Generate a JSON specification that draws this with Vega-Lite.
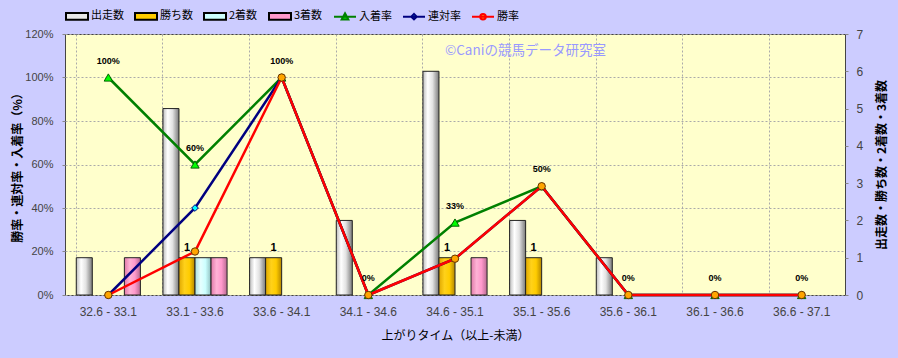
{
  "$schema": "https://vega.github.io/schema/vega-lite/v6.json",
  "width": 780,
  "height": 261,
  "autosize": {"type": "none"},
  "padding": {"left": 65, "top": 34, "right": 53, "bottom": 63},
  "background": "#ccccff",
  "config": {
    "font": "Noto Sans CJK JP",
    "view": {"fill": "#ffffcc", "stroke": "#444", "strokeWidth": 1},
    "axis": {
      "labelFont": "Liberation Sans",
      "labelColor": "#444",
      "titleFont": "Noto Sans CJK JP",
      "titleColor": "#000",
      "domain": false,
      "gridDash": [2, 2],
      "gridColor": "#aaaaaa",
      "tickColor": "#888888"
    }
  },
  "datasets": {
    "counts": [
      {"range": "32.6 - 33.1", "series": "出走数", "count": 1},
      {"range": "32.6 - 33.1", "series": "勝ち数", "count": 0},
      {"range": "32.6 - 33.1", "series": "2着数", "count": 0},
      {"range": "32.6 - 33.1", "series": "3着数", "count": 1},
      {"range": "33.1 - 33.6", "series": "出走数", "count": 5},
      {"range": "33.1 - 33.6", "series": "勝ち数", "count": 1},
      {"range": "33.1 - 33.6", "series": "2着数", "count": 1},
      {"range": "33.1 - 33.6", "series": "3着数", "count": 1},
      {"range": "33.6 - 34.1", "series": "出走数", "count": 1},
      {"range": "33.6 - 34.1", "series": "勝ち数", "count": 1},
      {"range": "33.6 - 34.1", "series": "2着数", "count": 0},
      {"range": "33.6 - 34.1", "series": "3着数", "count": 0},
      {"range": "34.1 - 34.6", "series": "出走数", "count": 2},
      {"range": "34.1 - 34.6", "series": "勝ち数", "count": 0},
      {"range": "34.1 - 34.6", "series": "2着数", "count": 0},
      {"range": "34.1 - 34.6", "series": "3着数", "count": 0},
      {"range": "34.6 - 35.1", "series": "出走数", "count": 6},
      {"range": "34.6 - 35.1", "series": "勝ち数", "count": 1},
      {"range": "34.6 - 35.1", "series": "2着数", "count": 0},
      {"range": "34.6 - 35.1", "series": "3着数", "count": 1},
      {"range": "35.1 - 35.6", "series": "出走数", "count": 2},
      {"range": "35.1 - 35.6", "series": "勝ち数", "count": 1},
      {"range": "35.1 - 35.6", "series": "2着数", "count": 0},
      {"range": "35.1 - 35.6", "series": "3着数", "count": 0},
      {"range": "35.6 - 36.1", "series": "出走数", "count": 1},
      {"range": "35.6 - 36.1", "series": "勝ち数", "count": 0},
      {"range": "35.6 - 36.1", "series": "2着数", "count": 0},
      {"range": "35.6 - 36.1", "series": "3着数", "count": 0},
      {"range": "36.1 - 36.6", "series": "出走数", "count": 0},
      {"range": "36.1 - 36.6", "series": "勝ち数", "count": 0},
      {"range": "36.1 - 36.6", "series": "2着数", "count": 0},
      {"range": "36.1 - 36.6", "series": "3着数", "count": 0},
      {"range": "36.6 - 37.1", "series": "出走数", "count": 0},
      {"range": "36.6 - 37.1", "series": "勝ち数", "count": 0},
      {"range": "36.6 - 37.1", "series": "2着数", "count": 0},
      {"range": "36.6 - 37.1", "series": "3着数", "count": 0}
    ],
    "rates": [
      {"range": "32.6 - 33.1", "series": "入着率", "rate": 1.0},
      {"range": "33.1 - 33.6", "series": "入着率", "rate": 0.6},
      {"range": "33.6 - 34.1", "series": "入着率", "rate": 1.0},
      {"range": "34.1 - 34.6", "series": "入着率", "rate": 0},
      {"range": "34.6 - 35.1", "series": "入着率", "rate": 0.333},
      {"range": "35.1 - 35.6", "series": "入着率", "rate": 0.5},
      {"range": "35.6 - 36.1", "series": "入着率", "rate": 0},
      {"range": "36.1 - 36.6", "series": "入着率", "rate": 0},
      {"range": "36.6 - 37.1", "series": "入着率", "rate": 0},
      {"range": "32.6 - 33.1", "series": "連対率", "rate": 0},
      {"range": "33.1 - 33.6", "series": "連対率", "rate": 0.4},
      {"range": "33.6 - 34.1", "series": "連対率", "rate": 1.0},
      {"range": "34.1 - 34.6", "series": "連対率", "rate": 0},
      {"range": "34.6 - 35.1", "series": "連対率", "rate": 0.167},
      {"range": "35.1 - 35.6", "series": "連対率", "rate": 0.5},
      {"range": "35.6 - 36.1", "series": "連対率", "rate": 0},
      {"range": "36.1 - 36.6", "series": "連対率", "rate": 0},
      {"range": "36.6 - 37.1", "series": "連対率", "rate": 0},
      {"range": "32.6 - 33.1", "series": "勝率", "rate": 0},
      {"range": "33.1 - 33.6", "series": "勝率", "rate": 0.2},
      {"range": "33.6 - 34.1", "series": "勝率", "rate": 1.0},
      {"range": "34.1 - 34.6", "series": "勝率", "rate": 0},
      {"range": "34.6 - 35.1", "series": "勝率", "rate": 0.167},
      {"range": "35.1 - 35.6", "series": "勝率", "rate": 0.5},
      {"range": "35.6 - 36.1", "series": "勝率", "rate": 0},
      {"range": "36.1 - 36.6", "series": "勝率", "rate": 0},
      {"range": "36.6 - 37.1", "series": "勝率", "rate": 0}
    ]
  },
  "encoding": {
    "x": {
      "field": "range",
      "type": "nominal",
      "title": "上がりタイム（以上-未満）",
      "scale": {
        "type": "band",
        "domain": ["32.6 - 33.1", "33.1 - 33.6", "33.6 - 34.1", "34.1 - 34.6", "34.6 - 35.1", "35.1 - 35.6", "35.6 - 36.1", "36.1 - 36.6", "36.6 - 37.1"],
        "paddingInner": 0.26,
        "paddingOuter": 0.13
      },
      "axis": {
        "bandPosition": 0,
        "grid": true,
        "ticks": false,
        "labelAngle": 0,
        "labelFontSize": 12,
        "labelPadding": 11,
        "titleFontSize": 12,
        "titleFontWeight": "normal",
        "titlePadding": 13
      }
    }
  },
  "layer": [
    {
      "data": {"name": "counts"},
      "encoding": {
        "y": {
          "field": "count",
          "type": "quantitative",
          "scale": {"domain": [0, 7], "nice": false},
          "axis": {
            "orient": "right",
            "title": "出走数・勝ち数・2着数・3着数",
            "values": [0, 1, 2, 3, 4, 5, 6, 7],
            "grid": false,
            "tickSize": 3,
            "labelPadding": 8,
            "labelFontSize": 12,
            "titleAngle": 270,
            "titleBaseline": "top",
            "titleFontSize": 12,
            "titleFontWeight": "bold",
            "titlePadding": 14
          }
        },
        "xOffset": {
          "field": "series",
          "type": "nominal",
          "scale": {"domain": ["出走数", "勝ち数", "2着数", "3着数"], "paddingInner": 0, "paddingOuter": 0}
        }
      },
      "layer": [
        {
          "transform": [{"filter": "datum.count > 0"}],
          "mark": {"type": "bar", "stroke": "#222222", "strokeWidth": 1},
          "encoding": {
            "fill": {
              "condition": [
                {"test": "datum.series === '出走数'", "value": {"gradient": "linear", "x1": 0, "x2": 1, "y1": 0, "y2": 0, "stops": [{"offset": 0, "color": "#bdbdbd"}, {"offset": 0.3, "color": "#ffffff"}, {"offset": 0.6, "color": "#e2e2e2"}, {"offset": 1, "color": "#7a7a7a"}]}},
                {"test": "datum.series === '勝ち数'", "value": {"gradient": "linear", "x1": 0, "x2": 1, "y1": 0, "y2": 0, "stops": [{"offset": 0, "color": "#e0a800"}, {"offset": 0.35, "color": "#ffd11a"}, {"offset": 0.65, "color": "#ffcc00"}, {"offset": 1, "color": "#b38600"}]}},
                {"test": "datum.series === '2着数'", "value": {"gradient": "linear", "x1": 0, "x2": 1, "y1": 0, "y2": 0, "stops": [{"offset": 0, "color": "#a8dede"}, {"offset": 0.35, "color": "#e6ffff"}, {"offset": 0.65, "color": "#ccffff"}, {"offset": 1, "color": "#8fbfbf"}]}}
              ],
              "value": {"gradient": "linear", "x1": 0, "x2": 1, "y1": 0, "y2": 0, "stops": [{"offset": 0, "color": "#e07aa8"}, {"offset": 0.35, "color": "#ffb3d6"}, {"offset": 0.65, "color": "#ff99cc"}, {"offset": 1, "color": "#b86b91"}]}
            }
          }
        },
        {
          "transform": [{"filter": "datum.series === '勝ち数' && datum.count > 0"}],
          "mark": {"type": "text", "baseline": "bottom", "dy": -5, "fontSize": 11, "fontWeight": "bold", "font": "Liberation Sans", "color": "#000"},
          "encoding": {"text": {"field": "count", "type": "quantitative"}}
        }
      ]
    },
    {
      "data": {"name": "rates"},
      "encoding": {
        "y": {
          "field": "rate",
          "type": "quantitative",
          "scale": {"domain": [0, 1.2], "nice": false},
          "axis": {
            "orient": "left",
            "title": "勝率・連対率・入着率（%）",
            "format": ".0%",
            "values": [0, 0.2, 0.4, 0.6, 0.8, 1.0, 1.2],
            "grid": true,
            "tickSize": 3,
            "labelPadding": 9,
            "labelFontSize": 11,
            "titleFontSize": 12,
            "titleFontWeight": "bold",
            "titlePadding": 0
          }
        }
      },
      "layer": [
        {
          "transform": [{"filter": "datum.series === '入着率'"}],
          "mark": {"type": "line", "strokeWidth": 2.5},
          "encoding": {
            "stroke": {
              "field": "series",
              "type": "nominal",
              "scale": {
                "domain": ["出走数", "勝ち数", "2着数", "3着数", "入着率", "連対率", "勝率"],
                "range": ["#000000", "#000000", "#000000", "#000000", "#008000", "#000080", "#ff0000"]
              },
              "legend": {
                "orient": "top",
                "direction": "horizontal",
                "title": null,
                "symbolSize": 484,
                "symbolStrokeWidth": 2,
                "labelFontSize": 11,
                "labelFont": "Noto Sans CJK JP",
                "labelColor": "#000000",
                "columnPadding": 7,
                "labelOffset": 2,
                "offset": 10,
                "padding": 0,
                "encode": {
                  "symbols": {
                    "update": {
                      "shape": {"signal": "datum.value === '入着率' ? 'M-1,0H1M0,-0.3L0.3,0.25L-0.3,0.25Z' : datum.value === '連対率' ? 'M-1,0H1M0,-0.25L0.25,0L0,0.25L-0.25,0Z' : datum.value === '勝率' ? 'M-1,0H1M0.25,0A0.25,0.25 0 1,1 -0.25,0A0.25,0.25 0 1,1 0.25,0Z' : 'M-1,-0.3H1V0.3H-1Z'"},
                      "strokeWidth": {"value": 2},
                      "opacity": {"value": 1},
                      "fillOpacity": {"value": 1}
                    }
                  }
                }
              }
            }
          }
        },
        {
          "transform": [{"filter": "datum.series === '入着率'"}],
          "mark": {"type": "point", "shape": "triangle-up", "filled": true, "stroke": "#006400", "strokeWidth": 1, "size": 70, "opacity": 1},
          "encoding": {
            "fill": {
              "field": "series",
              "type": "nominal",
              "scale": {
                "domain": ["出走数", "勝ち数", "2着数", "3着数", "入着率", "連対率", "勝率"],
                "range": ["#e8e8e8", "#ffcc00", "#ccffff", "#ff99cc", "#00ff00", "#00ffff", "#ffa500"]
              },
              "legend": {
                "orient": "top",
                "direction": "horizontal",
                "title": null,
                "symbolSize": 484,
                "symbolStrokeWidth": 2,
                "labelFontSize": 11,
                "labelFont": "Noto Sans CJK JP",
                "labelColor": "#000000",
                "columnPadding": 7,
                "labelOffset": 2,
                "offset": 10,
                "padding": 0,
                "encode": {
                  "symbols": {
                    "update": {
                      "shape": {"signal": "datum.value === '入着率' ? 'M-1,0H1M0,-0.3L0.3,0.25L-0.3,0.25Z' : datum.value === '連対率' ? 'M-1,0H1M0,-0.25L0.25,0L0,0.25L-0.25,0Z' : datum.value === '勝率' ? 'M-1,0H1M0.25,0A0.25,0.25 0 1,1 -0.25,0A0.25,0.25 0 1,1 0.25,0Z' : 'M-1,-0.3H1V0.3H-1Z'"},
                      "strokeWidth": {"value": 2},
                      "opacity": {"value": 1},
                      "fillOpacity": {"value": 1}
                    }
                  }
                }
              }
            }
          }
        },
        {
          "transform": [{"filter": "datum.series === '連対率'"}],
          "mark": {"type": "line", "strokeWidth": 2.5},
          "encoding": {"stroke": {"field": "series", "type": "nominal"}}
        },
        {
          "transform": [{"filter": "datum.series === '連対率'"}],
          "mark": {"type": "point", "shape": "diamond", "filled": true, "stroke": "#000080", "strokeWidth": 1, "size": 45, "opacity": 1},
          "encoding": {"fill": {"field": "series", "type": "nominal"}}
        },
        {
          "transform": [{"filter": "datum.series === '勝率'"}],
          "mark": {"type": "line", "strokeWidth": 2.5},
          "encoding": {"stroke": {"field": "series", "type": "nominal"}}
        },
        {
          "transform": [{"filter": "datum.series === '勝率'"}],
          "mark": {"type": "point", "shape": "circle", "filled": true, "stroke": "#663300", "strokeWidth": 1, "size": 55, "opacity": 1},
          "encoding": {"fill": {"field": "series", "type": "nominal"}}
        },
        {
          "transform": [{"filter": "datum.series === '入着率'"}],
          "mark": {"type": "text", "baseline": "middle", "dy": -17, "fontSize": 9, "fontWeight": "bold", "font": "Liberation Sans", "color": "#000"},
          "encoding": {"text": {"field": "rate", "type": "quantitative", "format": ".0%"}}
        },
        {
          "data": {"values": [{"t": "©Caniの競馬データ研究室", "pos": "34.6 - 35.1", "level": 1.12}]},
          "mark": {"type": "text", "align": "left", "baseline": "middle", "dx": -10, "fontSize": 13.5, "font": "Noto Sans CJK JP", "color": "#9999ff"},
          "encoding": {
            "x": {"field": "pos", "type": "nominal"},
            "y": {"field": "level", "type": "quantitative"},
            "text": {"field": "t", "type": "nominal"}
          }
        }
      ]
    }
  ],
  "resolve": {"scale": {"y": "independent"}}
}
